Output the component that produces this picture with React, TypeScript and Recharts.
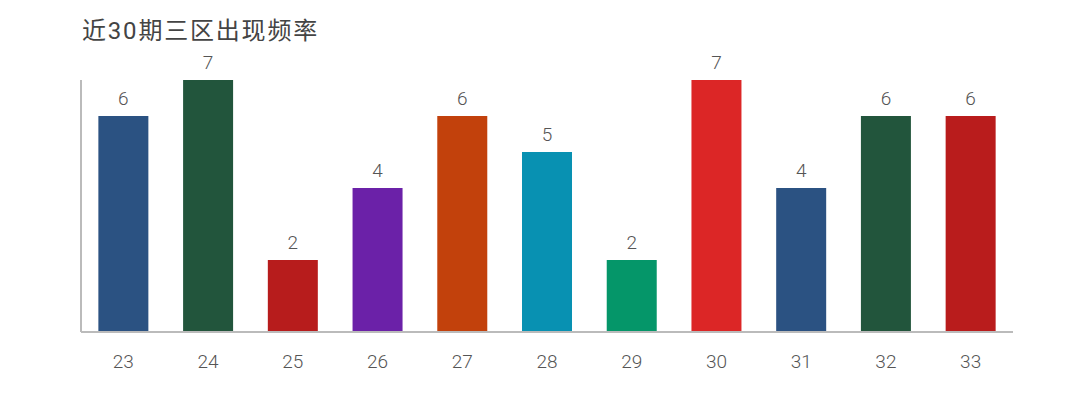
import React from "react";
import { BarChart, Bar, XAxis, YAxis, Cell, LabelList } from "recharts";

const categories = ["23", "24", "25", "26", "27", "28", "29", "30", "31", "32", "33"];
const counts = [6, 7, 2, 4, 6, 5, 2, 7, 4, 6, 6];
const colors = [
  "#2b5282", "#22553c", "#b71c1c", "#6b21a8", "#c2410c", "#0891b2",
  "#059669", "#dc2626", "#2b5282", "#22553c", "#b91c1c",
];
const title = "近30期三区出现频率";

const data = categories.map((c, i) => ({ name: c, value: counts[i] }));

const FONT = "Roboto, 'Noto Sans CJK SC', sans-serif";

export default function App() {
  return (
    <div style={{ position: "absolute", left: 0, top: 0, width: 1070, height: 409, background: "#fff" }}>
      <div
        style={{
          position: "absolute",
          left: 82,
          top: 11,
          fontFamily: FONT,
          fontSize: 24,
          color: "#444",
          letterSpacing: 1.8,
          whiteSpace: "nowrap",
        }}
      >
        {title}
      </div>
      <BarChart
        width={1070}
        height={409}
        data={data}
        margin={{ top: 80, right: 57, bottom: 0, left: 80 }}
        barCategoryGap="20.5%"
      >
        <XAxis
          dataKey="name"
          tickLine={false}
          axisLine={{ stroke: "#bbb", strokeWidth: 2 }}
          tickSize={0}
          tickMargin={23}
          tick={{ fill: "#555", fontSize: 19, fontFamily: FONT, fontWeight: 300 }}
          height={77}
        />
        <YAxis
          domain={[0, 7]}
          width={1}
          tick={false}
          tickLine={false}
          axisLine={{ stroke: "#bbb", strokeWidth: 2 }}
        />
        <Bar dataKey="value" isAnimationActive={false}>
          {data.map((d, i) => (
            <Cell key={d.name} fill={colors[i]} />
          ))}
          <LabelList
            dataKey="value"
            position="top"
            offset={11}
            style={{ fill: "#555", fontSize: 19, fontFamily: FONT, fontWeight: 300 }}
          />
        </Bar>
      </BarChart>
    </div>
  );
}
